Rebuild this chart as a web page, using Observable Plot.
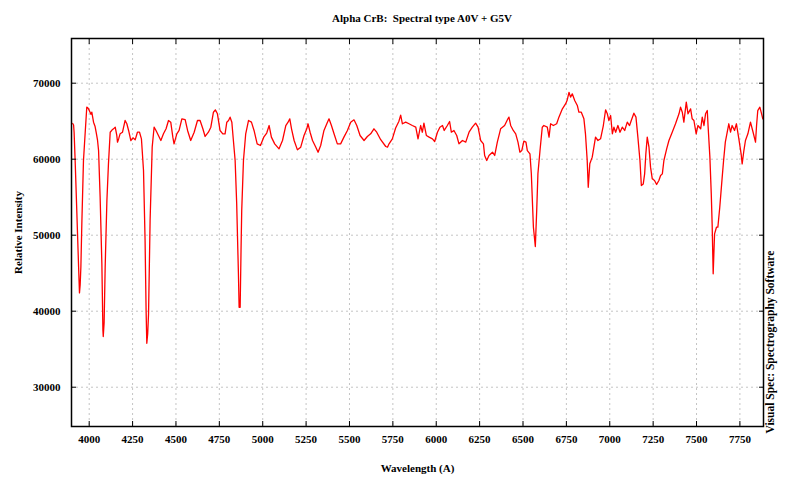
<!DOCTYPE html>
<html><head><meta charset="utf-8">
<script src="https://cdn.jsdelivr.net/npm/d3@7"></script>
<script src="https://cdn.jsdelivr.net/npm/@observablehq/plot@0.6"></script>
<style>
body{margin:0;background:#fff;}
#title{height:30px;width:800px;box-sizing:border-box;padding-left:44px;text-align:center;font:bold 11px "Liberation Serif",serif;line-height:36px;color:#000;white-space:pre}
</style></head><body>
<div id="title"></div>
<div id="chart"></div>
<script>
const wavelength = [3905,3910,3913,3919,3929,3939,3944,3948,3952,3958,3967,3977,3986,3990,3996,4005,4010,4015,4025,4034,4040,4048,4054,4063,4073,4079,4081,4086,4092,4102,4111,4121,4130,4140,4150,4159,4163,4170,4178,4192,4199,4207,4217,4227,4240,4252,4265,4278,4290,4301,4313,4322,4328,4332,4337,4342,4351,4363,4374,4385,4399,4413,4428,4443,4457,4470,4482,4489,4505,4518,4534,4553,4567,4585,4605,4624,4639,4655,4668,4687,4701,4716,4727,4739,4754,4770,4783,4793,4803,4812,4822,4831,4841,4850,4860,4864,4870,4875,4879,4889,4902,4918,4935,4950,4968,4987,5006,5023,5037,5050,5069,5094,5114,5133,5146,5156,5166,5181,5200,5219,5238,5254,5261,5273,5287,5306,5319,5334,5353,5373,5382,5396,5411,5430,5449,5468,5488,5507,5526,5542,5561,5584,5603,5622,5641,5657,5680,5709,5719,5728,5747,5766,5785,5795,5805,5824,5843,5862,5882,5895,5910,5920,5929,5943,5959,5978,5991,6007,6021,6036,6046,6064,6077,6087,6102,6118,6131,6151,6170,6189,6208,6227,6241,6256,6272,6279,6291,6304,6324,6337,6352,6371,6394,6413,6419,6429,6444,6458,6471,6482,6493,6505,6517,6525,6540,6548,6560,6571,6579,6586,6598,6611,6620,6640,6650,6659,6675,6694,6707,6727,6746,6755,6765,6774,6784,6798,6813,6822,6836,6851,6860,6870,6876,6885,6899,6918,6932,6947,6963,6976,6986,6995,7005,7015,7024,7034,7047,7059,7072,7086,7101,7114,7124,7139,7151,7162,7174,7182,7193,7201,7208,7216,7226,7235,7245,7258,7270,7283,7293,7303,7312,7328,7341,7360,7379,7399,7408,7418,7427,7441,7451,7466,7475,7485,7498,7508,7524,7533,7543,7552,7562,7567,7577,7585,7590,7596,7604,7615,7623,7634,7648,7656,7666,7686,7696,7705,7719,7730,7744,7757,7763,7773,7782,7796,7811,7826,7840,7846,7853,7865,7875,7882,7888];
const intensity = [64700,64500,63550,59830,52810,45790,42400,43500,45790,51930,59830,63550,66840,66800,66620,66180,65900,66180,64870,64300,63550,62500,61140,55000,46230,37500,36670,38500,45790,54560,59390,63550,63800,63990,64210,63120,62240,62700,63340,63550,64300,65090,64660,63780,62460,62810,62550,63550,63550,62680,58510,49300,40000,35780,37000,39650,51930,61580,64210,63780,63120,62460,63340,64000,65090,64870,62900,62020,63340,63780,65310,65200,63780,62460,63550,65090,65090,64000,62990,63550,64210,66180,66490,65970,63780,63340,63340,64870,65090,65530,64870,62460,59830,54130,44920,40520,40520,48000,53250,59830,63340,65090,64870,63780,62020,61800,62900,63440,64430,62900,62020,61360,62460,64430,64870,65310,64000,62460,61230,61580,63120,64000,64660,63550,62460,61580,60920,61800,63780,64870,65310,64430,63340,62020,62020,62900,63780,64870,65180,64430,63120,62460,62990,63340,64000,63550,62560,61670,61580,62020,62680,64100,65000,65800,64660,64870,64660,64430,64210,62680,64430,63550,64740,63120,62900,62680,62330,63550,64210,64430,63780,64430,64960,63550,63780,63120,62020,62460,62240,63550,64210,64740,64210,62460,62020,60490,59830,60490,60920,60490,62240,64000,64430,65310,65530,64440,63780,63340,62240,60920,61140,62370,62240,61140,60710,58080,51050,48510,53250,58080,61140,64210,64430,64210,62900,64660,64430,64660,65530,66630,67300,67800,68800,68160,68600,67730,67070,66180,66180,65310,63340,59830,56310,59390,60270,62900,62460,62680,64430,66490,65970,65090,65750,63340,64210,63550,64430,63550,64210,63780,64870,64430,65090,66050,65530,62900,59830,56530,56750,58070,60710,62900,61580,58950,57420,57200,56670,57200,57860,58070,59830,61360,62460,63550,64660,65970,66840,66180,64870,67510,65970,66620,65310,65090,63340,64430,64000,65530,64430,65970,66400,64210,60270,55440,51490,44920,50180,51050,51050,53680,57640,59830,62240,64660,63550,64430,63780,64660,62680,60710,59390,61140,62460,63340,64870,63550,62240,64430,66400,66840,65970,65310,65530];
const xTicks = [4000,4250,4500,4750,5000,5250,5500,5750,6000,6250,6500,6750,7000,7250,7500,7750];
const yTicks = [30000,40000,50000,60000,70000];
const titleText = "Alpha CrB:  Spectral type A0V + G5V";
const xLabel = "Wavelength (A)";
const yLabel = "Relative Intensity";
const sideNote = "Visual Spec: Spectrography Software";

const data = wavelength.map((w, i) => ({w, v: intensity[i]}));
const gridStyle = {stroke: "#c4c4c4", strokeOpacity: 1, strokeDasharray: "2,3"};
const chart = Plot.plot({
  width: 800, height: 454,
  marginLeft: 71, marginRight: 37, marginTop: 8, marginBottom: 58,
  style: {fontFamily: '"Liberation Serif", serif', fontWeight: "bold", fontSize: "11px", color: "#000", background: "#fff"},
  x: {domain: [3898, 7886]},
  y: {domain: [24830, 75880]},
  marks: [
    Plot.gridX(xTicks, gridStyle),
    Plot.gridY(yTicks, gridStyle),
    Plot.line(data, {x: "w", y: "v", stroke: "#ff0000", strokeWidth: 1.3, clip: true}),
    Plot.axisX(xTicks, {anchor: "bottom", tickSize: -5, tickPadding: 14, tickFormat: "d", label: null}),
    Plot.axisX(xTicks, {anchor: "top", tickSize: -5, tickFormat: () => "", label: null}),
    Plot.axisY(yTicks, {anchor: "left", tickSize: -5, tickPadding: 16, tickFormat: "d", label: null}),
    Plot.axisY(yTicks, {anchor: "right", tickSize: -5, tickFormat: () => "", label: null}),
    Plot.frame({stroke: "#000", strokeWidth: 1.5}),
    Plot.text([yLabel], {frameAnchor: "left", rotate: -90, textAnchor: "middle", dx: -53}),
    Plot.text([xLabel], {frameAnchor: "bottom", dy: 45}),
    Plot.text([sideNote], {frameAnchor: "bottom-right", rotate: -90, textAnchor: "start", dx: 10, dy: 7, fontSize: 11.5})
  ]
});
document.getElementById("title").textContent = titleText;
document.getElementById("chart").appendChild(chart);
</script>
</body></html>
